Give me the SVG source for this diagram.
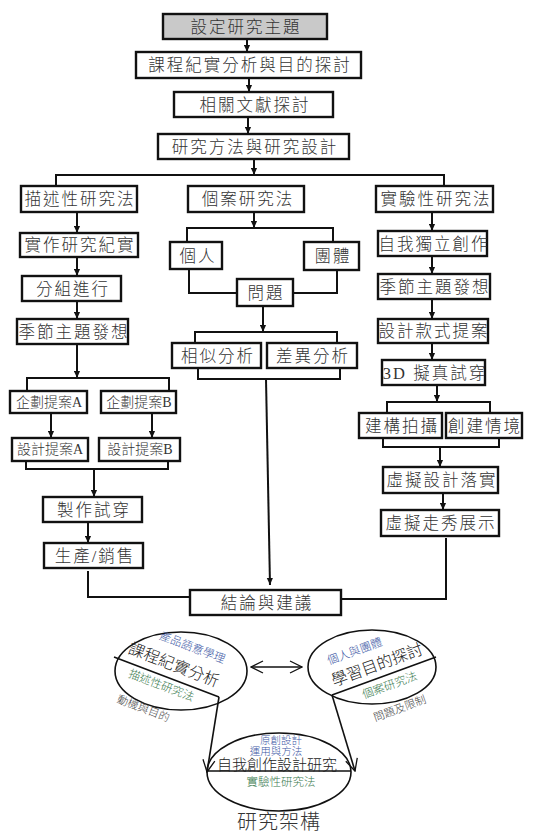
<svg xmlns="http://www.w3.org/2000/svg" width="549" height="832" viewBox="0 0 549 832">
<defs>
<marker id="ah" viewBox="0 0 8 8" refX="8" refY="4" markerWidth="7" markerHeight="7" markerUnits="userSpaceOnUse" orient="auto">
<path d="M0,0.5 L8,4 L0,7.5 z" fill="#111"/>
</marker>
<marker id="ov" viewBox="0 0 14 14" refX="13" refY="7" markerWidth="14" markerHeight="14" markerUnits="userSpaceOnUse" orient="auto">
<path d="M1,1 L13,7 L1,13" fill="none" stroke="#111" stroke-width="1.3"/>
</marker>
<marker id="ovs" viewBox="0 0 14 14" refX="1" refY="7" markerWidth="14" markerHeight="14" markerUnits="userSpaceOnUse" orient="auto">
<path d="M13,1 L1,7 L13,13" fill="none" stroke="#111" stroke-width="1.3"/>
</marker>
</defs>
<style>
rect.b{fill:#fff;stroke:#111;stroke-width:2.4}
rect.g{fill:#c9c9c9;stroke:#111;stroke-width:2.4}
text{font-family:"Liberation Serif","Noto Sans CJK TC","Noto Sans CJK SC",serif;fill:#333;text-anchor:middle;font-weight:300}
.t{font-size:16.5px;letter-spacing:2px}
.s{font-size:14px}
.c line,.c polyline{fill:none;stroke:#111;stroke-width:2}
.a{marker-end:url(#ah)}
.k{fill:none;stroke:#111;stroke-width:1.6}
.bl{fill:#4059a6;font-size:11.5px}
.gr{fill:#3b7b4f;font-size:11.5px}
.bk{fill:#222;font-size:16px}
.gy{fill:#444;font-size:11px}
</style>
<g id="n1"><rect class="g" x="163" y="14" width="164" height="25"/><text class="t" x="246" y="33">設定研究主題</text></g>
<g id="n2"><rect class="b" x="136" y="52" width="225" height="26"/><text class="t" x="250" y="71">課程紀實分析與目的探討</text></g>
<g id="n3"><rect class="b" x="174" y="92" width="159" height="25"/><text class="t" x="255" y="111">相關文獻探討</text></g>
<g id="n4"><rect class="b" x="158" y="134" width="191" height="25"/><text class="t" x="255" y="153">研究方法與研究設計</text></g>
<g id="d1"><rect class="b" x="21" y="186" width="116" height="26"/><text class="t" x="80" y="205">描述性研究法</text></g>
<g id="c1"><rect class="b" x="188" y="186" width="116" height="26"/><text class="t" x="248" y="205">個案研究法</text></g>
<g id="e1"><rect class="b" x="376" y="186" width="117" height="26"/><text class="t" x="436" y="205">實驗性研究法</text></g>
<g id="d2"><rect class="b" x="20" y="233" width="118" height="24"/><text class="t" x="80" y="251">實作研究紀實</text></g>
<g id="d3"><rect class="b" x="22" y="276" width="99" height="25"/><text class="t" x="73" y="295">分組進行</text></g>
<g id="d4"><rect class="b" x="17" y="319" width="111" height="25"/><text class="t" x="74" y="338">季節主題發想</text></g>
<g id="d5a"><rect class="b" x="10" y="391" width="77" height="22"/><text class="s" x="49" y="407">企劃提案A</text></g>
<g id="d5b"><rect class="b" x="101" y="391" width="75" height="22"/><text class="s" x="139" y="407">企劃提案B</text></g>
<g id="d6a"><rect class="b" x="12" y="438" width="76" height="23"/><text class="s" x="50" y="454">設計提案A</text></g>
<g id="d6b"><rect class="b" x="99" y="438" width="81" height="23"/><text class="s" x="140" y="454">設計提案B</text></g>
<g id="d7"><rect class="b" x="43" y="497" width="99" height="25"/><text class="t" x="94" y="516">製作試穿</text></g>
<g id="d8"><rect class="b" x="44" y="543" width="99" height="25"/><text class="t" x="95" y="562">生產/銷售</text></g>
<g id="c2"><rect class="b" x="170" y="242" width="52" height="27"/><text class="t" x="198" y="262">個人</text></g>
<g id="c3"><rect class="b" x="304" y="242" width="55" height="28"/><text class="t" x="333" y="262">團體</text></g>
<g id="c4"><rect class="b" x="237" y="279" width="56" height="27"/><text class="t" x="266" y="299">問題</text></g>
<g id="c5"><rect class="b" x="172" y="343" width="89" height="25"/><text class="t" x="218" y="362">相似分析</text></g>
<g id="c6"><rect class="b" x="267" y="343" width="90" height="25"/><text class="t" x="313" y="362">差異分析</text></g>
<g id="e2"><rect class="b" x="378" y="231" width="109" height="25"/><text class="t" x="434" y="250">自我獨立創作</text></g>
<g id="e3"><rect class="b" x="378" y="274" width="112" height="25"/><text class="t" x="435" y="293">季節主題發想</text></g>
<g id="e4"><rect class="b" x="378" y="319" width="110" height="24"/><text class="t" x="434" y="337">設計款式提案</text></g>
<g id="e5"><rect class="b" x="382" y="360" width="103" height="25"/><text class="t" x="435" y="379">3D 擬真試穿</text></g>
<g id="e6a"><rect class="b" x="359" y="413" width="83" height="25"/><text class="t" x="402" y="432">建構拍攝</text></g>
<g id="e6b"><rect class="b" x="446" y="413" width="76" height="25"/><text class="t" x="485" y="432">創建情境</text></g>
<g id="e7"><rect class="b" x="383" y="467" width="115" height="26"/><text class="t" x="442" y="486">虛擬設計落實</text></g>
<g id="e8"><rect class="b" x="381" y="510" width="118" height="26"/><text class="t" x="441" y="529">虛擬走秀展示</text></g>
<g id="f"><rect class="b" x="190" y="590" width="151" height="25"/><text class="t" x="267" y="609">結論與建議</text></g>
<g id="connectors" class="c">
<line class="a" x1="247" y1="39" x2="247" y2="52"/>
<line class="a" x1="249" y1="78" x2="249" y2="92"/>
<line class="a" x1="248" y1="117" x2="248" y2="134"/>
<line class="a" x1="254" y1="159" x2="254" y2="175"/>
<polyline points="56,186 56,175 444,175 444,186"/>
<line class="a" x1="77" y1="212" x2="77" y2="233"/>
<line class="a" x1="77" y1="257" x2="77" y2="276"/>
<line class="a" x1="77" y1="301" x2="77" y2="319"/>
<line class="a" x1="77" y1="344" x2="77" y2="378"/>
<polyline points="27,391 27,378 169,378 169,391"/>
<line class="a" x1="51" y1="413" x2="51" y2="438"/>
<line class="a" x1="152" y1="413" x2="152" y2="438"/>
<polyline points="26,461 26,469 168,469 168,461"/>
<line class="a" x1="94" y1="469" x2="94" y2="497"/>
<line class="a" x1="88" y1="522" x2="88" y2="543"/>
<polyline points="88,571 88,597 190,597"/>
<polyline points="446,538 446,599 341,599"/>
<line class="a" x1="254" y1="212" x2="254" y2="228"/>
<polyline points="187,242 187,228 333,228 333,242"/>
<polyline points="189,269 189,293 237,293"/>
<polyline points="337,270 337,293 293,293"/>
<line class="a" x1="263" y1="306" x2="263" y2="332"/>
<polyline points="195,343 195,332 337,332 337,343"/>
<polyline points="198,368 198,379 340,379 340,368"/>
<line class="a" x1="266" y1="379" x2="270" y2="585"/>
<line class="a" x1="432" y1="212" x2="432" y2="231"/>
<line class="a" x1="432" y1="256" x2="432" y2="274"/>
<line class="a" x1="432" y1="299" x2="432" y2="319"/>
<line class="a" x1="432" y1="343" x2="432" y2="360"/>
<line class="a" x1="437" y1="385" x2="437" y2="402"/>
<polyline points="387,413 387,402 490,402 490,413"/>
<polyline points="383,438 383,447 499,447 499,438"/>
<line class="a" x1="440" y1="447" x2="440" y2="467"/>
<line class="a" x1="443" y1="493" x2="443" y2="510"/>
</g>
<g id="circle-left">
<ellipse class="k" cx="181" cy="671" rx="66" ry="39"/>
<line class="k" x1="114" y1="657" x2="219" y2="697"/>
<text class="bl" transform="translate(191,651) rotate(21)">產品語意學理</text>
<text class="bk" transform="translate(172,670) rotate(21)">課程紀實分析</text>
<text class="gr" transform="translate(160,689) rotate(21)">描述性研究法</text>
<text class="gy" transform="translate(142,712) rotate(21)">動機與目的</text>
</g>
<g id="circle-right">
<ellipse class="k" cx="372" cy="667" rx="64" ry="37"/>
<line class="k" x1="332" y1="695" x2="436" y2="657"/>
<text class="bl" transform="translate(356,655) rotate(-20)">個人與團體</text>
<text class="bk" transform="translate(379,670) rotate(-20)">學習目的探討</text>
<text class="gr" transform="translate(391,689) rotate(-20)">個案研究法</text>
<text class="gy" transform="translate(401,712) rotate(-20)">問題及限制</text>
</g>
<g id="circle-bottom">
<ellipse class="k" cx="279" cy="772" rx="72" ry="39"/>
<line class="k" x1="207" y1="771" x2="351" y2="771"/>
<text class="bl" x="281" y="744" style="font-size:10.5px">原創設計</text>
<text class="bl" x="276" y="755" style="font-size:10.5px">運用與方法</text>
<text style="font-size:15px;fill:#222" x="277" y="769.5">自我創作設計研究</text>
<text class="gr" x="281" y="786">實驗性研究法</text>
</g>
<g id="framework-links">
<line class="k" x1="251" y1="667" x2="302" y2="667" marker-start="url(#ovs)" marker-end="url(#ov)"/>
<line class="k" x1="219" y1="697" x2="207" y2="772" marker-end="url(#ov)"/>
<line class="k" x1="332" y1="695" x2="355" y2="771" marker-end="url(#ov)"/>
</g>
<text x="279" y="829" style="font-size:20px;fill:#333;letter-spacing:1px">研究架構</text>
</svg>
